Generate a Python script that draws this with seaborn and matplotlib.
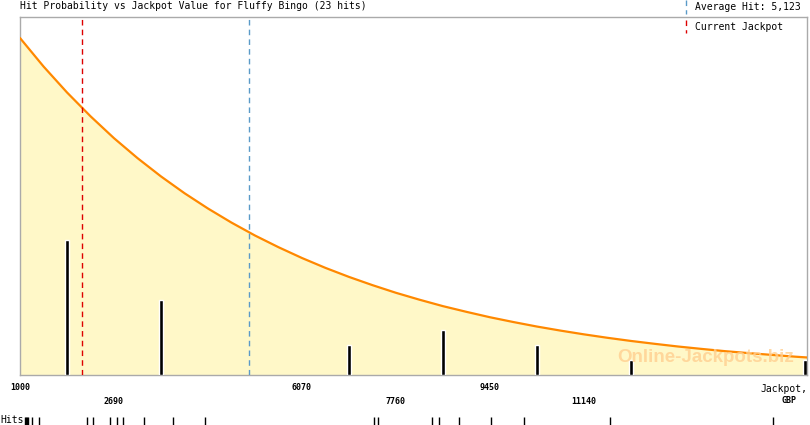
from matplotlib import pyplot as plt
from matplotlib.lines import Line2D
import pandas as pd
import seaborn as sns

### DATA ###
# jackpot value of each of the 23 hits (rug at the bottom)
hits = [1090, 1108, 1126, 1144, 1216, 1342, 2205, 2313, 2618, 2744, 2852,
        3229, 3751, 4326, 7365, 7437, 8407, 8533, 8893, 9468, 10062, 11608,
        14539]
# histogram bars (number of hits per bin)
bar_x = [1845, 3535, 6915, 8605, 10295, 11985, 15115]
bar_counts = [9, 5, 2, 3, 2, 1, 1]
# fitted probability curve, same vertical scale as the bars
curve_x = [1000, 1423, 1845, 2268, 2690, 3113, 3535, 3958, 4380, 4803, 5225,
           5648, 6070, 6493, 6915, 7338, 7760, 8183, 8605, 9028, 9450, 9873,
           10295, 10718, 11140, 11563, 11985, 12408, 12830, 13253, 13675,
           14098, 14520, 14943, 15150]
curve_y = [22.47, 20.57, 18.84, 17.25, 15.79, 14.46, 13.24, 12.12, 11.10,
           10.16, 9.30, 8.52, 7.80, 7.14, 6.54, 5.99, 5.48, 5.02, 4.59, 4.21,
           3.85, 3.53, 3.23, 2.96, 2.71, 2.48, 2.27, 2.08, 1.90, 1.74, 1.59,
           1.46, 1.34, 1.22, 1.17]
tick_values = [1000, 2690, 4380, 6070, 7760, 9450, 11140, 12830, 14520]
tick_labels = ['1000', '\n2690', '', '6070', '\n7760', '9450', '\n11140', '', '']
average_hit = 5123
current_jackpot = 2115

df_curve = pd.DataFrame({'jackpot': curve_x, 'prob': curve_y})

sns.set_style('white')
plt.rcParams['font.family'] = ['DejaVu Sans Mono']
plt.rcParams['text.color'] = 'black'

W, H = 810, 425
fig = plt.figure(figsize=(W / 100, H / 100), dpi=100)
ax = fig.add_axes([20 / W, 50 / H, 787 / W, 358 / H])

ax.fill_between(curve_x, curve_y, 0, color='#fff8c8', linewidth=0, zorder=1)
sns.lineplot(data=df_curve, x='jackpot', y='prob', ax=ax, color='#ff8800',
             linewidth=1.6, zorder=3)
ax.bar(bar_x, bar_counts, width=72, color='black', zorder=4)

ax.axvline(current_jackpot, color='#dd0000', linewidth=1, dashes=(4, 3), zorder=5)
ax.axvline(average_hit, color='#5a9ac8', linewidth=1, dashes=(4, 3), zorder=5)

# watermark
ax.text(0.983, 0.05, 'Online-Jackpots.biz', transform=ax.transAxes,
        ha='right', va='center', fontsize=13.5, fontweight='bold',
        family='Liberation Sans', color='#ffcf90', alpha=0.8, zorder=6)

ax.set_xlim(1000, 15150)
ax.set_ylim(0, 23.87)
ax.set_yticks([])
ax.set_xticks(tick_values)
ax.set_xticklabels(tick_labels, fontsize=6, fontweight='bold', linespacing=1.6,
                   color='black')
ax.tick_params(axis='x', length=4, width=1, color='#aaaaaa', pad=2)
ax.set_xlabel('')
ax.set_ylabel('')
for s in ax.spines.values():
    s.set_color('#aaaaaa')
    s.set_linewidth(1)

ax.text(1.0, -0.025, 'Jackpot,', transform=ax.transAxes, ha='right', va='top',
        fontsize=7)
ax.text(0.987, -0.06, 'GBP', transform=ax.transAxes, ha='right', va='top',
        fontsize=6, fontweight='bold')

# rug of individual hits
rug_ax = fig.add_axes([20 / W, 0 / H, 787 / W, 8 / H])
sns.rugplot(x=hits, ax=rug_ax, height=1, color='black', linewidth=1, expand_margins=False)
rug_ax.set_xlim(1000, 15150)
rug_ax.set_ylim(0, 1)
rug_ax.axis('off')
fig.text(0, 5 / H, 'Hits', ha='left', va='center', fontsize=7)

# title and legend
fig.text(20 / W, 1 - 6 / H, 'Hit Probability vs Jackpot Value for Fluffy Bingo (23 hits)',
         ha='left', va='center', fontsize=7)
fig.add_artist(Line2D([686 / W, 686 / W], [1 - 0 / H, 1 - 14 / H], color='#5a9ac8',
                      linewidth=1, dashes=(4, 3)))
fig.add_artist(Line2D([686 / W, 686 / W], [1 - 20 / H, 1 - 33 / H], color='#dd0000',
                      linewidth=1, dashes=(4, 3)))
fig.text(695 / W, 1 - 7 / H, 'Average Hit: 5,123', ha='left', va='center', fontsize=7)
fig.text(695 / W, 1 - 27 / H, 'Current Jackpot', ha='left', va='center', fontsize=7)

plt.savefig('out.png', dpi=100)
